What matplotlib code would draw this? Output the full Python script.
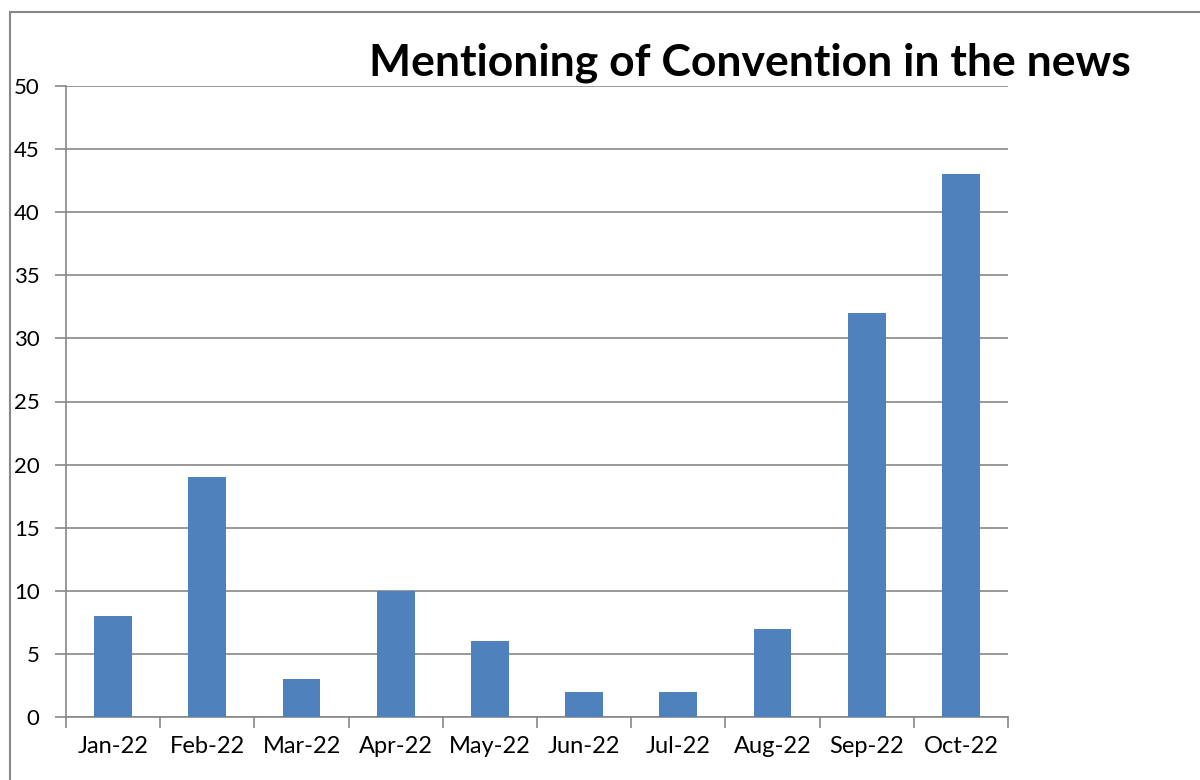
import matplotlib
matplotlib.use('Agg')
import matplotlib.pyplot as plt
from matplotlib.patches import Rectangle

months = ["Jan-22", "Feb-22", "Mar-22", "Apr-22", "May-22",
          "Jun-22", "Jul-22", "Aug-22", "Sep-22", "Oct-22"]
mentions = [8, 19, 3, 10, 6, 2, 2, 7, 32, 43]
yticks = list(range(0, 55, 5))

plt.rcParams['font.family'] = ['Lato', 'DejaVu Sans']
grey = "#878787"

fig = plt.figure(figsize=(12, 7.8), dpi=100)
ax = fig.add_axes([66/1200, 1 - 717/780, (1008 - 66)/1200, (717 - 86)/780])

x = list(range(len(months)))
ax.bar(x, mentions, width=0.4, color="#4F81BD", zorder=3)

ax.set_xlim(-0.5, len(months) - 0.5)
ax.set_ylim(0, 50)
ax.set_yticks(yticks)
ax.yaxis.grid(True, color=grey, linewidth=1.2, zorder=0)

ax.set_xticks(x)
ax.set_xticklabels(months, fontsize=17)
ax.set_xticks([i - 0.5 for i in range(len(months) + 1)], minor=True)
ax.tick_params(axis='x', which='major', length=0, pad=14)
ax.tick_params(axis='x', which='minor', length=8, width=1.2, color=grey)
ax.tick_params(axis='y', length=8, width=1.2, color=grey, labelsize=16, pad=11)

for side in ["top", "right"]:
    ax.spines[side].set_visible(False)
for side in ["left", "bottom"]:
    ax.spines[side].set_color(grey)
    ax.spines[side].set_linewidth(1.2)

fig.text(0.625, 0.919, "Mentioning of Convention in the news",
         fontsize=32, fontweight='bold', ha='center', va='center')

fig.patches.append(Rectangle((10/1200, -0.1), 1.2, 1 - 12/780 + 0.1,
                             transform=fig.transFigure, fill=False,
                             edgecolor=grey, linewidth=1.5))

fig.savefig("out.png", dpi=100)
